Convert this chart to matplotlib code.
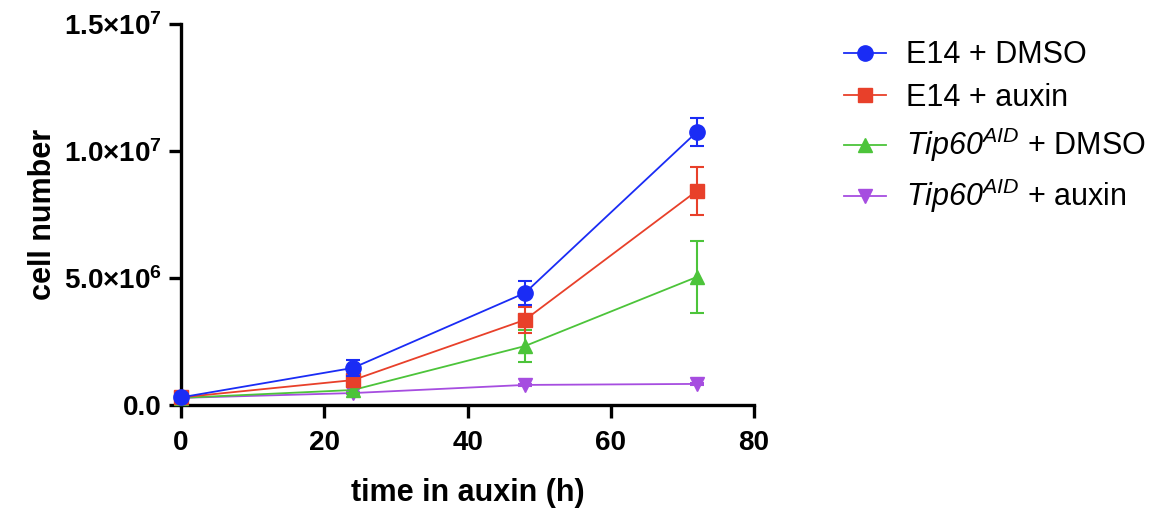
import matplotlib
matplotlib.use("Agg")
import matplotlib.pyplot as plt
from matplotlib.ticker import FuncFormatter

plt.rcParams['font.family'] = ['Liberation Sans', 'DejaVu Sans']
plt.rcParams['mathtext.fontset'] = 'custom'
# rm is mapped to italic so that "Tip60" (digits included) comes out italic
plt.rcParams['mathtext.rm'] = 'Liberation Sans:italic'
plt.rcParams['mathtext.it'] = 'Liberation Sans:italic'
plt.rcParams['mathtext.bf'] = 'Liberation Sans:bold'

# time points (h)
hours = [0, 24, 48, 72]

labels = ['E14 + DMSO', 'E14 + auxin',
          r'$\mathrm{Tip60}^{\mathrm{AID}}$ + DMSO',
          r'$\mathrm{Tip60}^{\mathrm{AID}}$ + auxin']
colors = ['#1a2cf5', '#e8402a', '#4cc43a', '#a64de0']
markers = ['o', 's', '^', 'v']
msizes = [11, 9.5, 9.5, 9.5]

e14_dmso = [0.30e6, 1.46e6, 4.41e6, 10.75e6]
e14_dmso_err = [0.05e6, 0.32e6, 0.47e6, 0.55e6]
e14_aux = [0.30e6, 0.98e6, 3.35e6, 8.43e6]
e14_aux_err = [0.05e6, 0.20e6, 0.50e6, 0.95e6]
tip_dmso = [0.28e6, 0.59e6, 2.32e6, 5.04e6]
tip_dmso_err = [0.03e6, 0.10e6, 0.63e6, 1.40e6]
tip_aux = [0.28e6, 0.47e6, 0.79e6, 0.83e6]
tip_aux_err = [0.03e6, 0.05e6, 0.05e6, 0.05e6]

series = [(e14_dmso, e14_dmso_err), (e14_aux, e14_aux_err),
          (tip_dmso, tip_dmso_err), (tip_aux, tip_aux_err)]

xticks = [0, 20, 40, 60, 80]
yticks = [0, 5e6, 1e7, 1.5e7]


def fmt(v, pos):
    if v == 0:
        return '0.0'
    exp = 0
    m = v
    while m >= 10:
        m /= 10
        exp += 1
    return r'$\mathbf{%.1f{\times}10^{%d}}$' % (m, exp)


fig = plt.figure(figsize=(11.71, 5.12), dpi=100)
ax = fig.add_axes([0.1546, 0.209, 0.644 - 0.1546, 0.953 - 0.209])

# draw in reverse so blue sits on top
for i in range(3, -1, -1):
    vals, err = series[i]
    ax.errorbar(hours, vals, yerr=err, color=colors[i], marker=markers[i],
                markersize=msizes[i], lw=1.3, capsize=5, capthick=1.5,
                elinewidth=1.5, label=labels[i], clip_on=False, zorder=3 + (3 - i))

ax.set_xlim(0, 80)
ax.set_ylim(0, 1.5e7)
ax.set_xticks(xticks)
ax.set_yticks(yticks)
ax.yaxis.set_major_formatter(FuncFormatter(fmt))
for s in ['top', 'right']:
    ax.spines[s].set_visible(False)
for s in ['left', 'bottom']:
    ax.spines[s].set_linewidth(2.4)
ax.tick_params(width=2.4, length=9)
ax.tick_params(axis='y', labelsize=20, pad=5)
ax.tick_params(axis='x', labelsize=20, pad=9)
for t in ax.get_yticklabels() + ax.get_xticklabels():
    t.set_fontweight('bold')
ax.set_xlabel('time in auxin (h)', fontsize=22, fontweight='bold', labelpad=16)
ax.set_ylabel('cell number', fontsize=22, fontweight='bold', labelpad=4)

handles, labs = ax.get_legend_handles_labels()
handles = handles[::-1]
labs = labs[::-1]
handles = [h[0] for h in handles]
leg = fig.legend(handles, labs, loc='upper left', bbox_to_anchor=(0.697, 0.975),
                 frameon=False, fontsize=22, handlelength=1.4, labelspacing=0.42,
                 handletextpad=0.65)

fig.savefig('out.png', dpi=100)
